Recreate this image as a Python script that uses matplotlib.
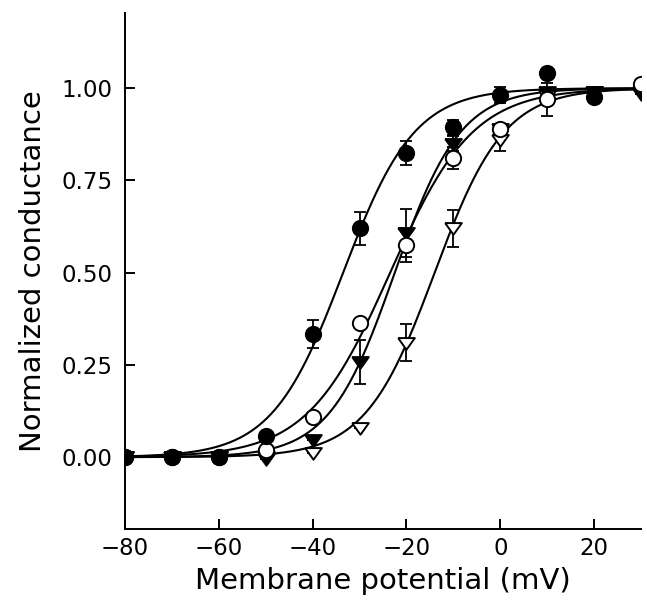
import numpy as np
import matplotlib
matplotlib.use('Agg')
import matplotlib.pyplot as plt

# membrane potentials (mV)
voltages = [-80, -70, -60, -50, -40, -30, -20, -10, 0, 10, 20, 30]

# normalized conductance per group (None = not shown)
filled_circle = [0.0, 0.0, 0.0, 0.057, 0.333, 0.62, 0.824, 0.894, 0.981, 1.04, 0.975, None]
filled_circle_err = [0, 0, 0, 0, 0.038, 0.045, 0.033, 0.02, 0.022, 0, 0, 0]

open_circle = [0.0, 0.0, 0.0, 0.02, 0.108, 0.363, 0.575, 0.81, 0.89, 0.97, None, 1.01]
open_circle_err = [0, 0, 0, 0, 0, 0, 0.045, 0.03, 0, 0.045, 0, 0]

filled_tri = [0.0, 0.0, 0.0, -0.005, 0.046, 0.257, 0.607, 0.85, 0.89, 0.99, 0.99, 0.99]
filled_tri_err = [0, 0, 0, 0, 0, 0.06, 0.065, 0.02, 0, 0, 0, 0]

open_tri = [0.0, 0.0, 0.0, 0.0, 0.01, 0.08, 0.31, 0.62, 0.86, 0.98, 0.99, 0.985]
open_tri_err = [0, 0, 0, 0, 0, 0, 0.05, 0.05, 0.03, 0, 0, 0]

# Boltzmann fit parameters (V_half, slope)
fits = {
    'filled_circle': (-33.5, 7.6),
    'open_circle': (-23.5, 8.8),
    'filled_tri': (-22.5, 7.0),
    'open_tri': (-14.0, 7.4),
}

x_ticks = [-80, -60, -40, -20, 0, 20]
y_ticks = [0.0, 0.25, 0.5, 0.75, 1.0]

plt.rcParams['font.family'] = 'DejaVu Sans'

fig = plt.figure(figsize=(6.47, 6.04), dpi=100)
ax = fig.add_axes([0.193, 0.124, 0.798, 0.854])

v = np.linspace(-80, 30, 400)
for name, (vh, k) in fits.items():
    ax.plot(v, 1 / (1 + np.exp((vh - v) / k)), color='black', lw=1.5, zorder=2)

# wide, flat down-pointing triangle like the original symbols
tri_down = [(-1, 0.65), (1, 0.65), (0, -0.75), (-1, 0.65)]


def draw_series(vals, errs, marker, face, size):
    xs = [x for x, y in zip(voltages, vals) if y is not None]
    ys = [y for y in vals if y is not None]
    es = [e for e, y in zip(errs, vals) if y is not None]
    ax.errorbar(xs, ys, yerr=es, fmt='none', ecolor='black', elinewidth=1.3,
                capsize=4, capthick=1.3, zorder=3)
    ax.plot(xs, ys, linestyle='none', marker=marker, markersize=size,
            markerfacecolor=face, markeredgecolor='black', markeredgewidth=1.4,
            zorder=4)


draw_series(open_tri, open_tri_err, tri_down, 'white', 12)
draw_series(filled_tri, filled_tri_err, tri_down, 'black', 12)
draw_series(open_circle, open_circle_err, 'o', 'white', 11)
draw_series(filled_circle, filled_circle_err, 'o', 'black', 11)

ax.set_xlim(-80, 30)
ax.set_ylim(-0.195, 1.203)
ax.set_xticks(x_ticks)
ax.set_yticks(y_ticks)
ax.set_xticklabels(['\u2212' + str(abs(t)) if t < 0 else str(t) for t in x_ticks])
ax.set_yticklabels(['%.2f' % t for t in y_ticks])

for side in ['top', 'right']:
    ax.spines[side].set_visible(False)
for side in ['left', 'bottom']:
    ax.spines[side].set_linewidth(1.4)

ax.tick_params(direction='in', length=7, width=1.4, labelsize=16.5)
ax.tick_params(axis='x', pad=6)
ax.tick_params(axis='y', pad=9)

ax.set_xlabel('Membrane potential (mV)', fontsize=21, labelpad=5)
ax.set_ylabel('Normalized conductance', fontsize=21, labelpad=10)

fig.savefig('out.png', dpi=100)
